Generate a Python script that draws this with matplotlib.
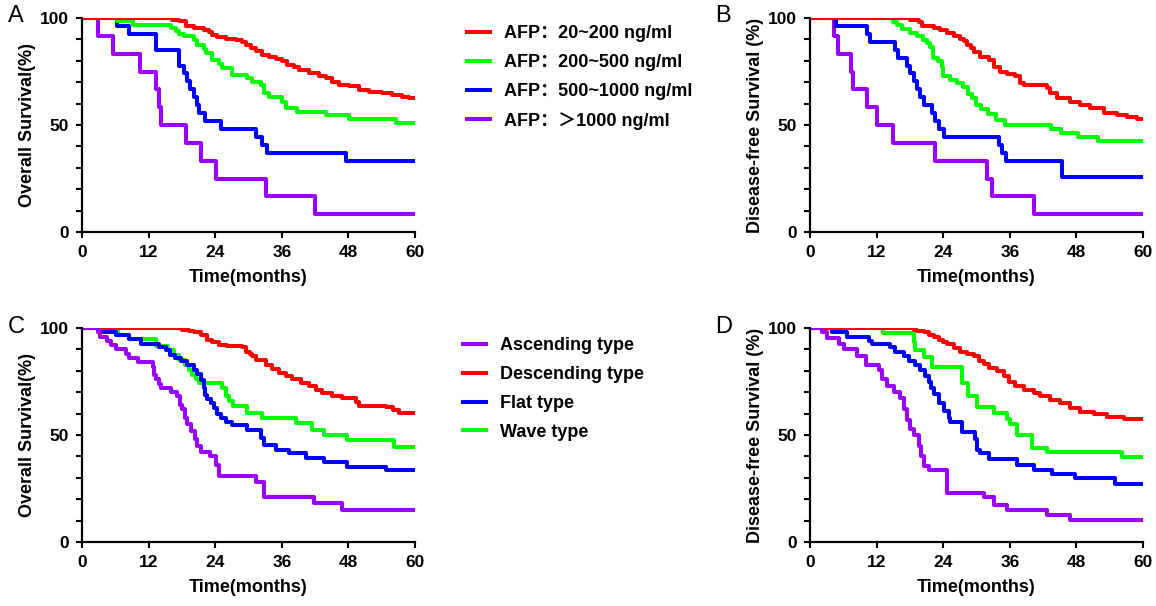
import matplotlib
matplotlib.use('Agg')
import matplotlib.pyplot as plt
from matplotlib.ticker import MultipleLocator

plt.rcParams['font.family'] = ['Liberation Sans', 'Noto Sans CJK SC', 'DejaVu Sans']
plt.rcParams['font.weight'] = 'bold'

#%% data: (month, survival %) read off at each drop of the curves
months_ticks = [0, 12, 24, 36, 48, 60]

# A - overall survival by AFP level
a_red = [(16.3, 99.2), (17.5, 98.4), (18.7, 96.4), (20.2, 95.3), (22.0, 94.5), (22.9, 93.5),
         (23.5, 92.2), (24.4, 91.3), (25.9, 90.2), (27.7, 89.6), (28.9, 89.0), (29.5, 87.5),
         (30.4, 86.0), (31.3, 84.4), (32.5, 82.8), (33.7, 81.8), (34.9, 80.8), (36.1, 79.7),
         (37.0, 78.1), (38.2, 77.0), (39.1, 75.8), (40.9, 74.2), (42.7, 73.0), (43.9, 71.9),
         (45.1, 70.3), (46.3, 68.8), (48.1, 68.0), (49.9, 66.4), (51.7, 65.6), (54.1, 64.8),
         (55.9, 64.1), (57.7, 63.3), (58.9, 62.5)]
a_green = [(6.3, 98.4), (9.1, 96.9), (16.0, 95.3), (16.9, 94.0), (17.5, 92.5), (18.4, 91.4),
           (20.2, 89.8), (20.8, 87.5), (22.0, 85.5), (22.3, 83.6), (23.5, 80.5), (24.7, 78.5),
           (25.3, 76.6), (27.1, 73.4), (29.8, 71.9), (30.7, 70.3), (32.2, 68.8), (32.8, 64.8),
           (33.7, 63.3), (36.1, 60.9), (36.7, 57.8), (38.8, 56.3), (43.9, 54.7), (48.1, 52.7),
           (56.5, 50.8)]
a_blue = [(6.3, 96.3), (8.5, 92.6), (13.3, 85.2), (17.5, 77.8), (18.4, 74.1), (19.0, 70.4),
          (19.5, 66.7), (20.2, 63.0), (20.7, 59.3), (21.0, 55.6), (22.2, 51.9), (25.0, 48.1),
          (31.3, 44.4), (32.5, 40.7), (33.4, 37.0), (47.5, 33.3)]
a_purple = [(2.9, 91.7), (5.5, 83.3), (10.5, 75.0), (13.3, 66.7), (13.8, 58.3), (14.2, 50.0),
            (18.7, 41.7), (21.4, 33.3), (24.1, 25.0), (33.1, 16.7), (42.0, 8.3)]

# B - disease-free survival by AFP level
b_red = [(18.1, 99.0), (19.6, 97.9), (20.2, 96.4), (22.3, 95.3), (23.5, 94.2), (24.7, 92.8),
         (25.9, 91.4), (27.1, 90.2), (27.7, 89.1), (28.3, 87.5), (29.0, 85.9), (29.5, 84.0),
         (30.7, 82.0), (32.2, 80.5), (33.1, 77.3), (34.3, 75.0), (35.5, 73.8), (37.0, 72.7),
         (37.9, 69.5), (38.5, 68.8), (42.7, 67.2), (43.3, 65.0), (44.5, 62.5), (46.9, 60.9),
         (48.7, 59.4), (50.5, 57.8), (52.9, 55.5), (55.3, 54.7), (57.1, 53.9), (58.9, 52.7)]
b_green = [(15.0, 98.3), (15.6, 96.6), (16.5, 94.9), (18.0, 93.2), (19.2, 91.5), (20.4, 89.8),
           (21.0, 88.1), (21.6, 86.4), (22.2, 81.4), (23.0, 79.7), (23.7, 77.3), (24.0, 72.9),
           (25.2, 71.2), (26.4, 69.5), (27.5, 67.8), (28.5, 64.4), (29.2, 62.7), (30.0, 59.3),
           (30.9, 57.6), (32.1, 55.0), (33.6, 52.5), (35.1, 50.0), (43.5, 48.3), (45.3, 46.1),
           (48.3, 44.5), (51.9, 42.4)]
b_blue = [(4.6, 96.3), (10.3, 92.6), (10.9, 88.9), (15.4, 85.2), (15.9, 81.5), (17.5, 77.8),
          (18.1, 74.1), (18.7, 70.4), (19.2, 66.7), (19.8, 63.0), (20.5, 59.3), (22.0, 55.6),
          (22.5, 51.9), (23.2, 48.1), (24.1, 44.4), (34.0, 40.7), (34.6, 37.0), (35.3, 33.3),
          (45.4, 25.9)]
b_purple = [(4.3, 91.7), (5.0, 83.3), (7.3, 75.0), (7.8, 66.7), (10.3, 58.3), (12.0, 50.0),
            (15.0, 41.7), (22.6, 33.3), (31.9, 25.0), (32.8, 16.7), (40.3, 8.3)]

# C - overall survival by AFP trend type
c_purple = [(2.8, 98.0), (3.2, 96.0), (4.5, 94.0), (5.2, 92.0), (6.2, 90.0), (8.0, 88.0),
            (8.5, 86.0), (10.0, 84.0), (12.8, 82.0), (13.0, 78.0), (13.3, 76.0), (13.8, 74.0),
            (14.2, 72.0), (16.0, 70.0), (17.2, 68.0), (17.6, 64.0), (18.0, 62.0), (18.5, 58.0),
            (19.0, 55.0), (19.6, 52.0), (20.3, 48.0), (20.8, 45.0), (21.5, 42.0), (23.0, 40.0),
            (24.1, 36.0), (24.6, 31.0), (31.3, 28.0), (32.8, 21.0), (41.8, 18.0), (46.9, 15.0)]
c_red = [(18.1, 99.2), (19.2, 98.5), (20.2, 97.9), (21.5, 96.5), (22.6, 94.5), (23.5, 93.3),
         (24.7, 92.2), (26.2, 91.5), (28.9, 91.1), (29.5, 89.0), (30.2, 87.8), (30.7, 86.7),
         (31.3, 85.2), (33.1, 82.8), (34.3, 81.0), (35.5, 79.2), (36.7, 77.6), (37.9, 76.1),
         (39.4, 74.2), (40.9, 72.7), (42.1, 71.1), (43.3, 69.5), (45.1, 68.3), (46.9, 67.2),
         (49.3, 65.6), (49.9, 63.6), (54.7, 63.0), (56.0, 61.5), (57.1, 60.5)]
c_blue = [(3.4, 98.0), (6.2, 96.5), (8.5, 95.0), (10.6, 92.7), (13.9, 91.2), (15.1, 89.5),
          (15.8, 87.5), (16.7, 86.0), (17.8, 84.4), (19.0, 82.8), (20.2, 80.5), (20.8, 78.5),
          (21.4, 75.8), (21.9, 72.0), (22.1, 68.8), (22.6, 67.0), (23.2, 65.0), (23.8, 62.5),
          (24.4, 60.0), (25.0, 57.8), (25.9, 56.2), (27.1, 54.7), (29.8, 52.3), (32.2, 48.4),
          (32.8, 45.3), (34.9, 43.0), (37.3, 41.4), (40.3, 39.1), (43.6, 37.5), (47.8, 35.2),
          (54.7, 33.6)]
c_green = [(3.7, 98.4), (6.5, 96.8), (8.5, 94.8), (13.3, 91.4), (15.5, 89.5), (16.5, 87.5),
           (17.5, 85.2), (18.6, 82.8), (19.3, 80.5), (19.9, 78.1), (20.5, 76.0), (21.1, 74.2),
           (25.3, 72.0), (25.9, 68.0), (26.5, 66.0), (27.2, 63.5), (29.8, 60.2), (32.5, 57.8),
           (38.5, 55.5), (41.5, 52.5), (43.6, 50.0), (47.8, 47.7), (56.2, 44.5)]

# D - disease-free survival by AFP trend type
d_purple = [(2.2, 98.0), (3.1, 95.5), (5.2, 92.5), (6.1, 90.0), (8.5, 87.0), (10.0, 82.5),
            (12.4, 80.5), (13.0, 76.0), (13.9, 73.0), (15.1, 70.0), (16.3, 67.5), (17.0, 62.0),
            (17.5, 57.0), (18.1, 53.0), (18.8, 50.0), (19.6, 45.0), (20.0, 40.0), (20.5, 35.5),
            (21.4, 33.5), (24.7, 23.0), (31.3, 21.0), (33.1, 17.5), (35.5, 15.0), (42.7, 12.5),
            (46.9, 10.2)]
d_red = [(18.7, 99.2), (19.3, 98.8), (20.5, 97.9), (21.5, 96.5), (22.3, 95.8), (23.2, 94.5),
         (24.0, 93.3), (24.7, 92.5), (25.9, 90.6), (27.1, 89.0), (28.3, 88.0), (29.5, 86.7),
         (30.4, 84.4), (31.3, 83.0), (32.2, 81.5), (33.7, 79.7), (34.9, 77.5), (35.8, 75.0),
         (37.0, 73.0), (38.5, 71.1), (40.3, 69.5), (41.5, 68.0), (43.3, 66.4), (45.1, 64.8),
         (46.9, 62.5), (48.7, 60.9), (51.1, 60.0), (53.5, 58.6), (56.5, 57.3)]
d_blue = [(4.0, 98.0), (6.7, 96.0), (10.6, 93.8), (11.2, 92.5), (14.5, 91.0), (15.4, 89.0),
          (16.9, 86.7), (17.8, 84.8), (19.0, 82.5), (19.9, 80.5), (20.8, 77.5), (21.4, 75.0),
          (21.8, 72.0), (22.3, 69.0), (23.2, 65.0), (24.1, 61.4), (25.0, 57.8), (25.3, 56.3),
          (27.4, 51.6), (29.8, 48.0), (30.1, 43.0), (30.7, 41.4), (32.2, 39.0), (37.3, 35.9),
          (40.3, 33.6), (43.6, 32.0), (47.8, 29.7), (55.0, 27.3)]
d_green = [(13.2, 97.7), (18.7, 93.5), (19.0, 89.8), (20.5, 86.5), (22.0, 82.0), (27.4, 74.2),
           (28.4, 68.0), (30.1, 63.3), (33.2, 60.2), (35.5, 57.5), (36.1, 55.0), (37.3, 50.0),
           (40.0, 43.8), (42.7, 42.2), (56.3, 39.8)]

afp_labels = ['AFP\uff1a20~200 ng/ml', 'AFP\uff1a200~500 ng/ml',
              'AFP\uff1a500~1000 ng/ml', 'AFP\uff1a\uff1e1000 ng/ml']
type_labels = ['Ascending type', 'Descending type', 'Flat type', 'Wave type']

RED, GREEN, BLUE, PURPLE = '#ff0000', '#00ff00', '#0000ff', '#9900ff'


def km(ax, pts, color, label=None, z=2):
    t = [0] + [p[0] for p in pts] + [60]
    s = [100] + [p[1] for p in pts] + [pts[-1][1]]
    return ax.step(t, s, where='post', color=color, lw=2.9, label=label, zorder=z)[0]


def style(ax, ylabel):
    ax.set_xlim(0, 60)
    ax.set_ylim(0, 100)
    ax.spines['top'].set_visible(False)
    ax.spines['right'].set_visible(False)
    ax.spines['left'].set_linewidth(1.6)
    ax.spines['bottom'].set_linewidth(1.6)
    ax.set_xticks(months_ticks)
    ax.set_yticks([0, 50, 100])
    ax.yaxis.set_minor_locator(MultipleLocator(10))
    ax.tick_params(which='both', width=1.5, length=4.5, labelsize=12.5, pad=5)
    ax.set_xlabel('Time(months)', fontsize=13, fontweight='bold', labelpad=6)
    ax.set_ylabel(ylabel, fontsize=13, fontweight='bold', labelpad=3)
    for lab in ax.get_xticklabels() + ax.get_yticklabels():
        lab.set_fontweight('bold')


fig = plt.figure(figsize=(11.56, 6.06), dpi=100)
W, H = 1156, 606
axA = fig.add_axes([82 / W, 1 - 232 / H, 333 / W, 214 / H])
axB = fig.add_axes([810 / W, 1 - 232 / H, 333 / W, 214 / H])
axC = fig.add_axes([82 / W, 1 - 542 / H, 333 / W, 214 / H])
axD = fig.add_axes([810 / W, 1 - 542 / H, 333 / W, 214 / H])

# top row: red drawn last
handles = []
for ax, curves in [(axA, [a_purple, a_blue, a_green, a_red]),
                   (axB, [b_purple, b_blue, b_green, b_red])]:
    hs = [km(ax, c, col) for c, col in zip(curves, [PURPLE, BLUE, GREEN, RED])]
    if ax is axA:
        handles = hs[::-1]
style(axA, 'Overall Survival(%)')
style(axB, 'Disease-free Survival (%)')

# bottom row: purple drawn last
handles2 = []
for ax, curves in [(axC, [c_green, c_blue, c_red, c_purple]),
                   (axD, [d_green, d_blue, d_red, d_purple])]:
    hs = [km(ax, c, col) for c, col in zip(curves, [GREEN, BLUE, RED, PURPLE])]
    if ax is axC:
        handles2 = hs[::-1]
style(axC, 'Overall Survival(%)')
style(axD, 'Disease-free Survival (%)')

leg_kw = dict(loc='upper left', frameon=False, handlelength=1.3, handletextpad=0.75,
              labelspacing=0.66, borderpad=0, borderaxespad=0,
              prop={'weight': 'bold', 'size': 13})
fig.legend(handles, afp_labels, bbox_to_anchor=(467 / W, 1 - 25 / H), **leg_kw)
fig.legend(handles2, type_labels, bbox_to_anchor=(463 / W, 1 - 337 / H), **leg_kw)

for x, y, letter in [(8, 5, 'A'), (715, 5, 'B'), (8, 316, 'C'), (715, 316, 'D')]:
    fig.text(x / W, 1 - y / H, letter, fontsize=17, fontweight='normal', va='top', ha='left')

fig.savefig('out.png', dpi=100)
